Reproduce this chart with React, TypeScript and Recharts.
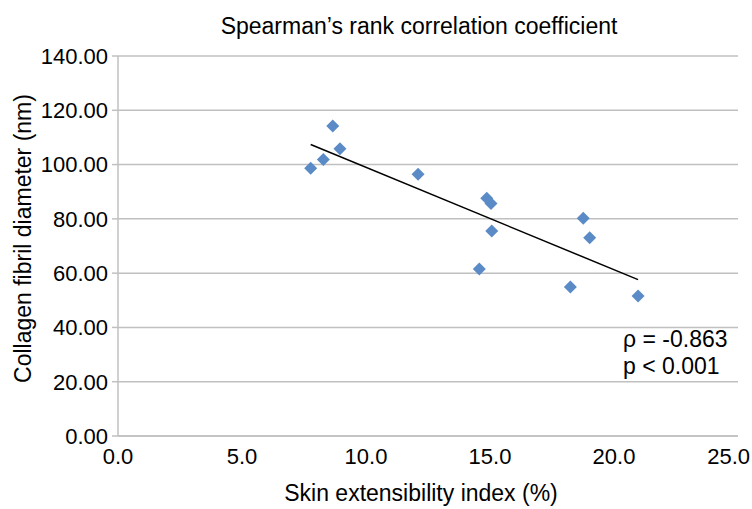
import { ScatterChart, Scatter, XAxis, YAxis, CartesianGrid, ReferenceLine } from 'recharts'

const extensibility = [7.77, 8.28, 8.66, 8.95, 12.1, 14.87, 15.04, 15.07, 14.57, 18.76, 19.02, 18.24, 20.97]
const fibrilDiameter = [98.6, 101.9, 114.2, 105.8, 96.4, 87.6, 85.7, 75.5, 61.5, 80.2, 73.0, 54.9, 51.6]
const trendX = [7.77, 20.97]
const trendY = [107.4, 57.6]
const xTicks = [0, 5, 10, 15, 20, 25]
const yTicks = [0, 20, 40, 60, 80, 100, 120, 140]

const points = extensibility.map((x, i) => ({ x, y: fibrilDiameter[i] }))

const font = '"Liberation Sans", Arial, sans-serif'

const Diamond = (props: any) => {
  const { cx, cy } = props
  const r = 6.5
  return (
    <polygon
      points={`${cx},${cy - r} ${cx + r},${cy} ${cx},${cy + r} ${cx - r},${cy}`}
      fill="#5b8bc7"
    />
  )
}

// Excel nudges the last label inward so it isn't clipped
const XTick = (props: any) => {
  const { x, y, payload } = props
  const label = payload.value.toFixed(1)
  const last = payload.value === xTicks[xTicks.length - 1]
  return (
    <text
      x={last ? 750 : x}
      y={y}
      dy="0.71em"
      textAnchor={last ? 'end' : 'middle'}
      fill="#000"
      fontSize={22}
      fontFamily={font}
    >
      {label}
    </text>
  )
}

export default function App() {
  return (
    <div style={{ position: 'absolute', left: 0, top: 0, width: 752, height: 509, background: '#fff', fontFamily: font, overflow: 'hidden' }}>
      <div style={{ position: 'absolute', left: 119, width: 600, top: 13, textAlign: 'center', fontSize: 23, lineHeight: '27px', color: '#000' }}>
        Spearman’s rank correlation coefficient
      </div>
      <ScatterChart width={752} height={509} margin={{ top: 56, right: 14, bottom: 0, left: 0 }}>
        <CartesianGrid horizontal vertical={false} stroke="#c0c0c0" strokeWidth={1.5} />
        <XAxis
          type="number"
          dataKey="x"
          domain={[0, 25]}
          ticks={xTicks}
          height={73}
          stroke="#c0c0c0"
          strokeWidth={1.5}
          tickLine={false}
          tick={<XTick />}
          tickMargin={6}
        />
        <YAxis
          type="number"
          dataKey="y"
          domain={[0, 140]}
          ticks={yTicks}
          tickFormatter={(v: number) => v.toFixed(2)}
          width={118}
          stroke="#c0c0c0"
          strokeWidth={1.5}
          tickSize={6}
          tickLine={{ stroke: '#c0c0c0' }}
          tick={{ fill: '#000', fontSize: 22, fontFamily: font }}
          tickMargin={4}
        />
        <Scatter data={points} shape={<Diamond />} isAnimationActive={false} />
        <ReferenceLine
          segment={[{ x: trendX[0], y: trendY[0] }, { x: trendX[1], y: trendY[1] }]}
          stroke="#000"
          strokeWidth={1.5}
        />
      </ScatterChart>
      <div style={{ position: 'absolute', left: 121, width: 600, top: 480, textAlign: 'center', fontSize: 23, lineHeight: '27px', color: '#000' }}>
        Skin extensibility index (%)
      </div>
      <div
        style={{
          position: 'absolute', left: 23 - 160, top: 238 - 13.5, width: 320, height: 27,
          textAlign: 'center', fontSize: 23, lineHeight: '27px', color: '#000',
          transform: 'rotate(-90deg)', transformOrigin: 'center', whiteSpace: 'nowrap',
        }}
      >
        Collagen fibril diameter (nm)
      </div>
      <div style={{ position: 'absolute', left: 623, top: 326, fontSize: 23, lineHeight: '27px', color: '#000' }}>
        <div>ρ = -0.863</div>
        <div>p &lt; 0.001</div>
      </div>
    </div>
  )
}
